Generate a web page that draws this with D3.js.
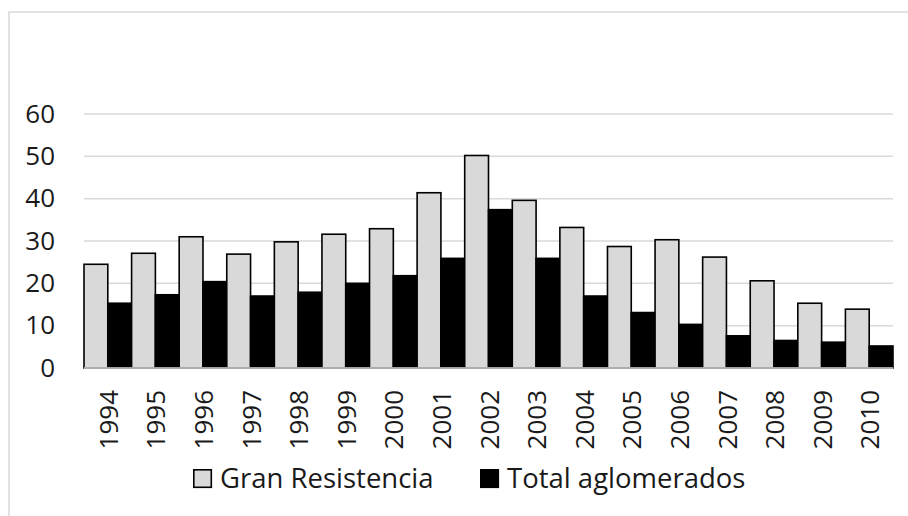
<!DOCTYPE html>
<html>
<head>
<meta charset="utf-8">
<script src="https://cdn.jsdelivr.net/npm/d3@7"></script>
<style>
  html, body { margin: 0; padding: 0; background: #fff; }
  svg text { font-family: "Open Sans", Lato, sans-serif; fill: #1a1a1a; }
</style>
</head>
<body>
<svg id="chart" width="908" height="516"></svg>
<script>
// Yearly values for both series
const years = ["1994","1995","1996","1997","1998","1999","2000","2001","2002",
               "2003","2004","2005","2006","2007","2008","2009","2010"];
const granResistencia = [24.5, 27.1, 31.0, 26.9, 29.8, 31.6, 32.9, 41.4, 50.2,
                         39.6, 33.2, 28.7, 30.3, 26.2, 20.6, 15.3, 13.9];
const totalAglomerados = [15.3, 17.3, 20.4, 17.0, 17.9, 20.0, 21.8, 25.9, 37.4,
                          25.9, 17.0, 13.1, 10.3, 7.6, 6.5, 6.1, 5.2];
const seriesNames = ["Gran Resistencia", "Total aglomerados"];
const seriesColors = ["#d9d9d9", "#000000"];
const yTicks = [0, 10, 20, 30, 40, 50, 60];

const FONT = "'Open Sans', Lato, sans-serif";
const svg = d3.select("#chart");
const margin = { left: 84, right: 15, top: 114, bottom: 148 };
const W = 908, H = 516;

// Outer chart frame
svg.append("rect")
  .attr("x", 9).attr("y", 12)
  .attr("width", 920).attr("height", 540)
  .attr("fill", "none").attr("stroke", "#d9d9d9").attr("stroke-width", 1.5);

const x = d3.scaleBand()
  .domain(years)
  .range([margin.left, W - margin.right])
  .paddingInner(0).paddingOuter(0);

const xs = d3.scaleBand()
  .domain(seriesNames)
  .range([0, x.bandwidth()])
  .padding(0);

const y = d3.scaleLinear()
  .domain([0, 60])
  .range([H - margin.bottom, margin.top]);

// Horizontal gridlines
svg.append("g")
  .selectAll("line")
  .data(yTicks.filter(d => d > 0))
  .join("line")
  .attr("x1", margin.left).attr("x2", W - margin.right)
  .attr("y1", d => y(d)).attr("y2", d => y(d))
  .attr("stroke", "#d9d9d9").attr("stroke-width", 1.5);

// Y axis labels
const yAxis = svg.append("g")
  .attr("transform", `translate(${margin.left},0)`)
  .call(d3.axisLeft(y).tickValues(yTicks).tickSize(0).tickPadding(29));
yAxis.select(".domain").remove();
yAxis.selectAll("text")
  .attr("font-size", 26)
  .attr("font-family", FONT)
  .attr("fill", "#1a1a1a");

// Bars
const rows = years.map((yr, i) => ({
  year: yr,
  values: [granResistencia[i], totalAglomerados[i]]
}));

const groups = svg.append("g")
  .selectAll("g")
  .data(rows)
  .join("g")
  .attr("transform", d => `translate(${x(d.year)},0)`);

groups.selectAll("rect")
  .data(d => d.values.map((v, k) => ({ name: seriesNames[k], value: v, k })))
  .join("rect")
  .attr("x", d => xs(d.name))
  .attr("width", xs.bandwidth())
  .attr("y", d => y(d.value))
  .attr("height", d => y(0) - y(d.value))
  .attr("fill", d => seriesColors[d.k])
  .attr("stroke", "#000")
  .attr("stroke-width", 1.6);

// Baseline
svg.append("line")
  .attr("x1", margin.left).attr("x2", W - margin.right)
  .attr("y1", y(0)).attr("y2", y(0))
  .attr("stroke", "#d9d9d9").attr("stroke-width", 1.5);

// X axis labels, rotated
const xAxis = svg.append("g")
  .attr("transform", `translate(0,${y(0)})`)
  .call(d3.axisBottom(x).tickSize(0).tickPadding(0));
xAxis.select(".domain").remove();
xAxis.selectAll("text")
  .attr("font-size", 26)
  .attr("font-family", FONT)
  .attr("fill", "#1a1a1a")
  .attr("text-anchor", "end")
  .attr("dy", "0.35em")
  .attr("transform", "translate(1,22) rotate(-90)")
  .attr("x", 0).attr("y", 0);

// Legend
const legendItems = [
  { name: seriesNames[0], color: seriesColors[0], x: 193 },
  { name: seriesNames[1], color: seriesColors[1], x: 480 }
];
const legend = svg.append("g");
const li = legend.selectAll("g").data(legendItems).join("g")
  .attr("transform", d => `translate(${d.x},469)`);
li.append("rect")
  .attr("x", 0.8).attr("y", 0.8)
  .attr("width", 17.5).attr("height", 17.5)
  .attr("fill", d => d.color)
  .attr("stroke", "#000").attr("stroke-width", 1.6);
li.append("text")
  .attr("x", 27).attr("y", 18.5)
  .attr("font-size", 27.5)
  .attr("font-family", FONT)
  .text(d => d.name);
</script>
</body>
</html>
